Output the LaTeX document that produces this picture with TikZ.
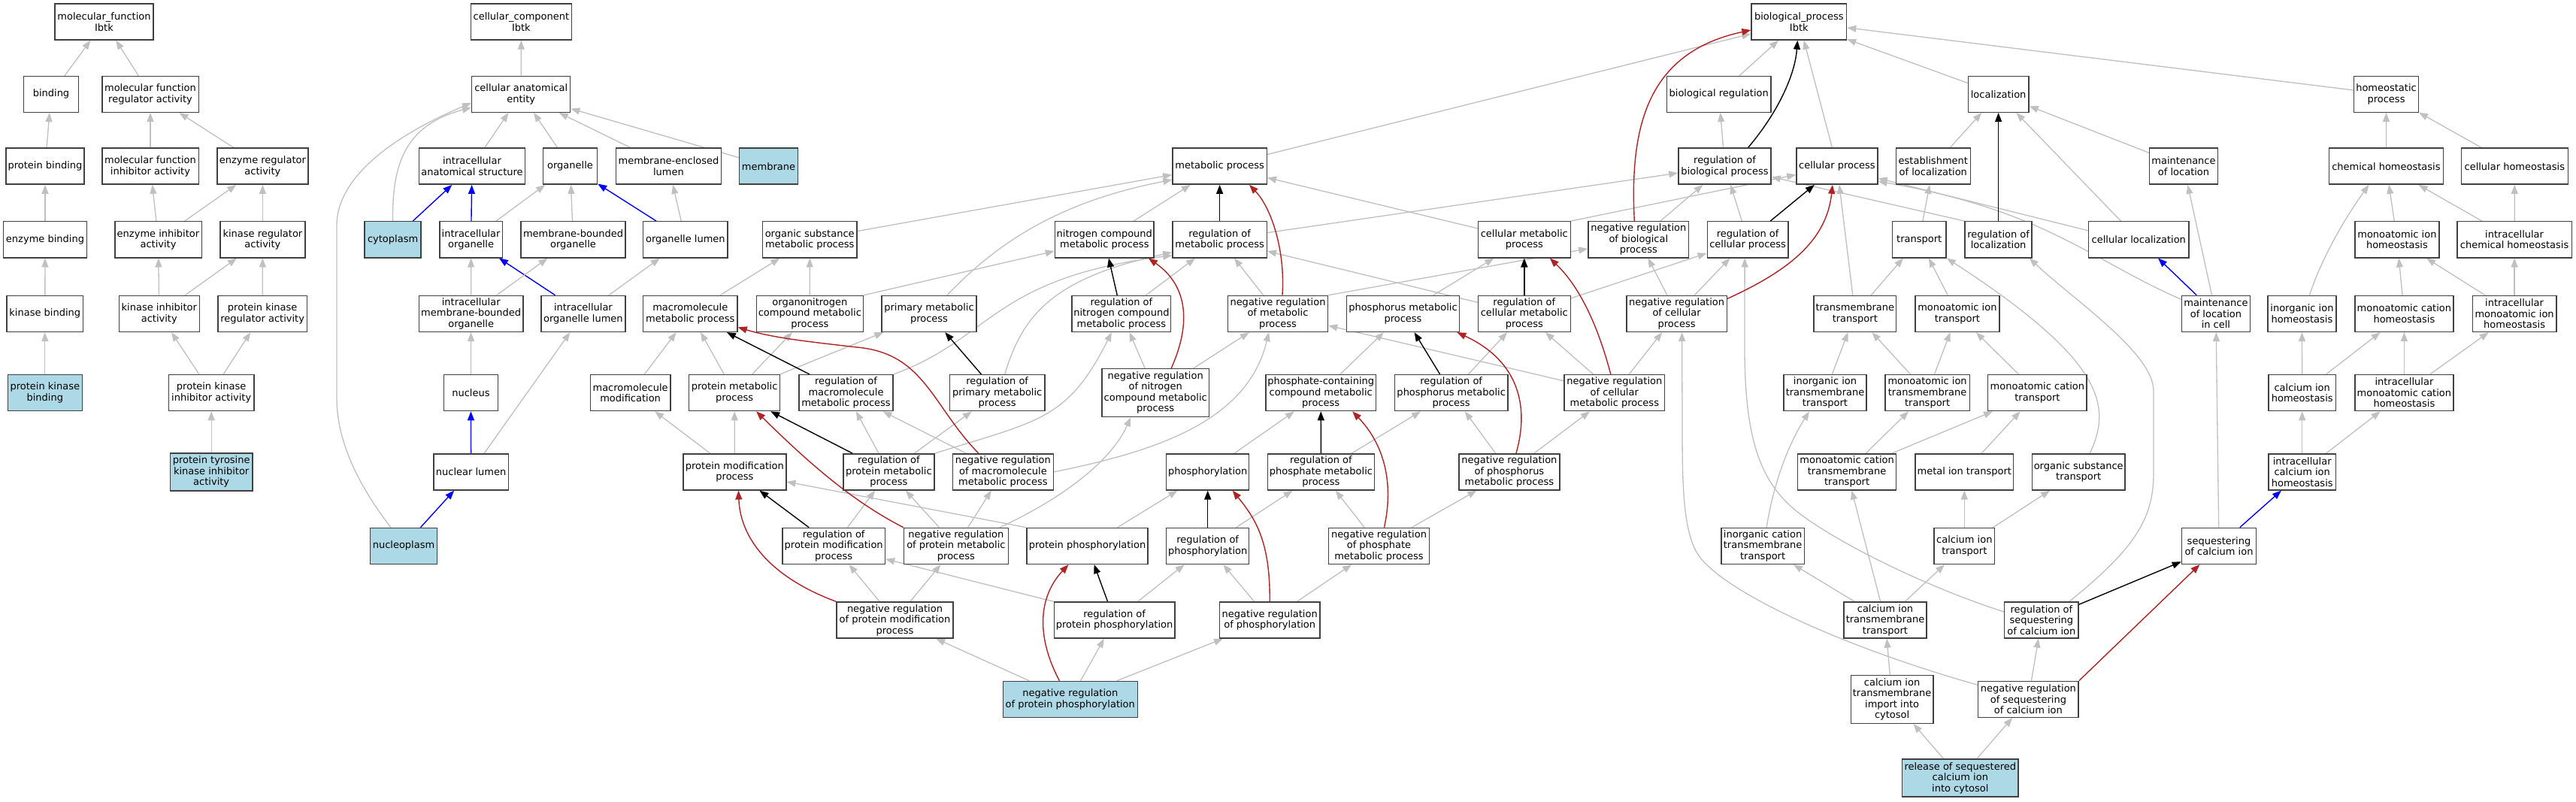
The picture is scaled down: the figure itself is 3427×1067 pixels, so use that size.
\documentclass[tikz,border=0pt]{standalone}
\usepackage{fontspec}
\newfontfamily\gofam{DejaVu Sans}
\usetikzlibrary{arrows.meta,calc,backgrounds}
\definecolor{edgegray}{RGB}{192,192,192}
\definecolor{negred}{RGB}{178,34,34}
\definecolor{hlblue}{RGB}{173,216,230}
\newcommand\gofont{\gofam\fontsize{13pt}{14.5pt}\selectfont}
\newcommand\gE[3]{\draw[#1] (#2) -- (#3);}
\tikzset{
 gonode/.style={rectangle, draw=black!75, line width=1.4pt, fill=white, inner sep=0pt, align=center, minimum height=48pt, font=\gofont, text=black},
 gohl/.style={fill=hlblue},
 eisa/.style={draw=edgegray, line width=1.3pt, -{Triangle[length=12pt,width=9pt]}},
 ereg/.style={draw=black, line width=1.4pt, -{Triangle[length=12pt,width=9pt]}},
 eneg/.style={draw=negred, line width=1.4pt, -{Triangle[length=12pt,width=9pt]}},
 epart/.style={draw=blue, line width=1.4pt, -{Triangle[length=12pt,width=9pt]}},
}
\begin{document}
\begin{tikzpicture}[x=1pt,y=-1pt]
\useasboundingbox (0,0) rectangle (3427,1067);
% ---------------- molecular function
\node[gonode,minimum width=131pt] (mf) at (138.5,29) {molecular\_function\\Ibtk};
\node[gonode,minimum width=72.5pt] (bind) at (68,125.3) {binding};
\node[gonode,minimum width=128.4pt] (mfra) at (200,125.3) {molecular function\\regulator activity};
\node[gonode,minimum width=104.3pt] (pbind) at (60,221.2) {protein binding};
\node[gonode,minimum width=128.4pt] (mfia) at (200,221.2) {molecular function\\inhibitor activity};
\node[gonode,minimum width=121pt] (enzra) at (349.4,221.2) {enzyme regulator\\activity};
\node[gonode,minimum width=111pt] (enzb) at (60,318.8) {enzyme binding};
\node[gonode,minimum width=115.4pt] (enzia) at (210.5,318.8) {enzyme inhibitor\\activity};
\node[gonode,minimum width=112.8pt] (kinra) at (349.4,318.8) {kinase regulator\\activity};
\node[gonode,minimum width=101.7pt] (kinb) at (59.8,417.4) {kinase binding};
\node[gonode,minimum width=107pt] (kinia) at (211.8,417.4) {kinase inhibitor\\activity};
\node[gonode,minimum width=118.4pt] (pkra) at (349.2,417.4) {protein kinase\\regulator activity};
\node[gonode,gohl,minimum width=98.8pt] (pkb) at (59.8,522.6) {protein kinase\\binding};
\node[gonode,minimum width=113.2pt] (pkia) at (281.2,522.6) {protein kinase\\inhibitor activity};
\node[gonode,gohl,minimum width=109.5pt,minimum height=50pt] (ptkia) at (281.2,627.9) {protein tyrosine\\kinase inhibitor\\activity};
% ---------------- cellular component
\node[gonode,minimum width=134.3pt] (cc) at (693.4,29) {cellular\_component\\Ibtk};
\node[gonode,minimum width=131pt] (cae) at (693.2,125.3) {cellular anatomical\\entity};
\node[gonode,minimum width=141pt] (ias) at (628,221.2) {intracellular\\anatomical structure};
\node[gonode,minimum width=72.2pt] (org) at (758.5,221.2) {organelle};
\node[gonode,minimum width=139.5pt] (mel) at (889.5,221.2) {membrane-enclosed\\lumen};
\node[gonode,gohl,minimum width=77.7pt] (memb) at (1022.5,221.2) {membrane};
\node[gonode,gohl,minimum width=75pt] (cyto) at (522.6,318.8) {cytoplasm};
\node[gonode,minimum width=83.6pt] (iorg) at (626.6,318.8) {intracellular\\organelle};
\node[gonode,minimum width=138.7pt] (mbo) at (762.5,318.8) {membrane-bounded\\organelle};
\node[gonode,minimum width=112.5pt] (orgl) at (911.9,318.8) {organelle lumen};
\node[gonode,minimum width=138.3pt] (imbo) at (626.7,417.4) {intracellular\\membrane-bounded\\organelle};
\node[gonode,minimum width=112.1pt] (iol) at (775.9,417.4) {intracellular\\organelle lumen};
\node[gonode,minimum width=72.2pt] (nucl) at (626.4,522.6) {nucleus};
\node[gonode,minimum width=99.2pt] (nlum) at (626.6,627.9) {nuclear lumen};
\node[gonode,gohl,minimum width=88.7pt] (nplasm) at (537,726.4) {nucleoplasm};
% ---------------- biological process
\node[gonode,minimum width=126.5pt] (bp) at (2393.3,29) {biological\_process\\Ibtk};
\node[gonode,minimum width=138.8pt] (breg) at (2286.7,125.3) {biological regulation};
\node[gonode,minimum width=80.8pt] (loc) at (2658.6,125.3) {localization};
\node[gonode,minimum width=85.8pt] (homeo) at (3174.5,125.3) {homeostatic\\process};
\node[gonode,minimum width=125.4pt] (met) at (1622.6,221.2) {metabolic process};
\node[gonode,minimum width=123.2pt] (rbp) at (2294.5,221.2) {regulation of\\biological process};
\node[gonode,minimum width=107.8pt] (cp) at (2443.9,221.2) {cellular process};
\node[gonode,minimum width=99.2pt] (estloc) at (2571.8,221.2) {establishment\\of localization};
\node[gonode,minimum width=90.8pt] (mloc) at (2905,221.2) {maintenance\\of location};
\node[gonode,minimum width=151.9pt] (chemh) at (3174.4,221.2) {chemical homeostasis};
\node[gonode,minimum width=142pt] (cellh) at (3345.3,221.2) {cellular homeostasis};
\node[gonode,minimum width=125.8pt] (osmp) at (1077.2,318.8) {organic substance\\metabolic process};
\node[gonode,minimum width=131.7pt] (ncmp) at (1469.3,318.8) {nitrogen compound\\metabolic process};
\node[gonode,minimum width=125.4pt] (rmp) at (1622.6,318.8) {regulation of\\metabolic process};
\node[gonode,minimum width=122.8pt] (cmp) at (2027.8,318.8) {cellular metabolic\\process};
\node[gonode,minimum width=133.9pt] (nrbp) at (2179.8,318.8) {negative regulation\\of biological\\process};
\node[gonode,minimum width=107.8pt] (rcp) at (2325.1,318.8) {regulation of\\cellular process};
\node[gonode,minimum width=71.8pt] (transp) at (2553.2,318.8) {transport};
\node[gonode,minimum width=89pt] (rloc) at (2658.6,318.8) {regulation of\\localization};
\node[gonode,minimum width=133.4pt] (cloc) at (2845.3,318.8) {cellular localization};
\node[gonode,minimum width=112.2pt] (mih) at (3188.9,318.8) {monoatomic ion\\homeostasis};
\node[gonode,minimum width=152.3pt] (ich) at (3345.1,318.8) {intracellular\\chemical homeostasis};
\node[gonode,minimum width=125.4pt] (mmp) at (918.3,417.4) {macromolecule\\metabolic process};
\node[gonode,minimum width=141.8pt] (oncmp) at (1077.4,417.4) {organonitrogen\\compound metabolic\\process};
\node[gonode,minimum width=126.2pt] (pmp) at (1236,417.4) {primary metabolic\\process};
\node[gonode,minimum width=131.7pt] (rncmp) at (1491.9,417.4) {regulation of\\nitrogen compound\\metabolic process};
\node[gonode,minimum width=133.1pt] (nrmp) at (1700,417.4) {negative regulation\\of metabolic\\process};
\node[gonode,minimum width=150.2pt] (phmp) at (1866.5,417.4) {phosphorus metabolic\\process};
\node[gonode,minimum width=122.8pt] (rcmp) at (2027.8,417.4) {regulation of\\cellular metabolic\\process};
\node[gonode,minimum width=133.4pt] (nrcp) at (2230.6,417.4) {negative regulation\\of cellular\\process};
\node[gonode,minimum width=109.8pt] (tmt) at (2467.8,417.4) {transmembrane\\transport};
\node[gonode,minimum width=111.8pt] (mit) at (2603.9,417.4) {monoatomic ion\\transport};
\node[gonode,minimum width=90.8pt] (mlocc) at (2947.9,417.4) {maintenance\\of location\\in cell};
\node[gonode,minimum width=91.2pt] (iih) at (3062.4,417.4) {inorganic ion\\homeostasis};
\node[gonode,minimum width=131.2pt] (mch) at (3198.4,417.4) {monoatomic cation\\homeostasis};
\node[gonode,minimum width=111.8pt] (imih) at (3345.1,417.4) {intracellular\\monoatomic ion\\homeostasis};
\node[gonode,minimum width=106.6pt] (mmod) at (838.6,522.6) {macromolecule\\modification};
\node[gonode,minimum width=121pt] (prmp) at (977.1,522.6) {protein metabolic\\process};
\node[gonode,minimum width=125.3pt] (rmmp) at (1125.5,522.6) {regulation of\\macromolecule\\metabolic process};
\node[gonode,minimum width=126.2pt] (rpmp) at (1326.7,522.6) {regulation of\\primary metabolic\\process};
\node[gonode,minimum width=142.5pt,minimum height=64pt] (nrncmp) at (1537.2,522.6) {negative regulation\\of nitrogen\\compound metabolic\\process};
\node[gonode,minimum width=146.8pt] (pccmp) at (1757.2,522.6) {phosphate-containing\\compound metabolic\\process};
\node[gonode,minimum width=150.6pt] (rphmp) at (1930.7,522.6) {regulation of\\phosphorus metabolic\\process};
\node[gonode,minimum width=133.6pt] (nrcmp) at (2147.8,522.6) {negative regulation\\of cellular\\metabolic process};
\node[gonode,minimum width=110.2pt] (iitt) at (2428,522.6) {inorganic ion\\transmembrane\\transport};
\node[gonode,minimum width=112.2pt] (mitt) at (2564.1,522.6) {monoatomic ion\\transmembrane\\transport};
\node[gonode,minimum width=131.4pt] (mct) at (2710.4,522.6) {monoatomic cation\\transport};
\node[gonode,minimum width=89.1pt] (cah) at (3062.7,522.6) {calcium ion\\homeostasis};
\node[gonode,minimum width=131.2pt] (imch) at (3198.4,522.6) {intracellular\\monoatomic cation\\homeostasis};
\node[gonode,minimum width=136.9pt] (pmod) at (977.4,627.9) {protein modification\\process};
\node[gonode,minimum width=120.8pt] (rprmp) at (1182.4,627.9) {regulation of\\protein metabolic\\process};
\node[gonode,minimum width=133.6pt] (nrmmp) at (1334.4,627.9) {negative regulation\\of macromolecule\\metabolic process};
\node[gonode,minimum width=109.9pt] (phos) at (1606.7,627.9) {phosphorylation};
\node[gonode,minimum width=142pt] (rphtmp) at (1757.4,627.9) {regulation of\\phosphate metabolic\\process};
\node[gonode,minimum width=133.9pt] (nrphmp) at (2007.9,627.9) {negative regulation\\of phosphorus\\metabolic process};
\node[gonode,minimum width=131pt] (mctt) at (2457.1,627.9) {monoatomic cation\\transmembrane\\transport};
\node[gonode,minimum width=130.6pt] (metit) at (2613.3,627.9) {metal ion transport};
\node[gonode,minimum width=123.5pt] (ost) at (2765.2,627.9) {organic substance\\transport};
\node[gonode,minimum width=89.1pt] (icah) at (3062.7,627.9) {intracellular\\calcium ion\\homeostasis};
\node[gonode,minimum width=136.4pt] (rpmod) at (1109.2,726.4) {regulation of\\protein modification\\process};
\node[gonode,minimum width=138.8pt] (nrprmp) at (1271.9,726.4) {negative regulation\\of protein metabolic\\process};
\node[gonode,minimum width=161pt] (pphos) at (1446.5,726.4) {protein phosphorylation};
\node[gonode,minimum width=109.9pt] (rphos) at (1606.7,726.4) {regulation of\\phosphorylation};
\node[gonode,minimum width=133.6pt] (nrphtmp) at (1834.5,726.4) {negative regulation\\of phosphate\\metabolic process};
\node[gonode,minimum width=110.2pt] (ictt) at (2345.1,726.4) {inorganic cation\\transmembrane\\transport};
\node[gonode,minimum width=80.8pt] (cait) at (2613.3,726.4) {calcium ion\\transport};
\node[gonode,minimum width=99.1pt] (seq) at (2952,726.4) {sequestering\\of calcium ion};
\node[gonode,minimum width=154.9pt] (nrpmod) at (1190.5,825) {negative regulation\\of protein modification\\process};
\node[gonode,minimum width=160.6pt] (rpphos) at (1482.6,825) {regulation of\\protein phosphorylation};
\node[gonode,minimum width=133.5pt] (nrphos) at (1689.2,825) {negative regulation\\of phosphorylation};
\node[gonode,minimum width=110.2pt] (catt) at (2508,825) {calcium ion\\transmembrane\\transport};
\node[gonode,minimum width=98.4pt] (rseq) at (2715.9,825) {regulation of\\sequestering\\of calcium ion};
\node[gonode,gohl,minimum width=179.1pt] (nrpphos) at (1423.8,930.3) {negative regulation\\of protein phosphorylation};
\node[gonode,minimum width=109.8pt,minimum height=64pt] (caimp) at (2517.1,930.3) {calcium ion\\transmembrane\\import into\\cytosol};
\node[gonode,minimum width=133.5pt] (nrseq) at (2698.4,930.3) {negative regulation\\of sequestering\\of calcium ion};
\node[gonode,gohl,minimum width=154.7pt,minimum height=50pt] (rel) at (2607.8,1035) {release of sequestered\\calcium ion\\into cytosol};
% ================= edges
\begin{pgfonlayer}{background}
\fill[white] (0,0) rectangle (3427,1067);
% MF
\gE{eisa}{bind}{mf} \gE{eisa}{mfra}{mf} \gE{eisa}{pbind}{bind} \gE{eisa}{mfia}{mfra}
\gE{eisa}{enzra}{mfra} \gE{eisa}{enzb}{pbind} \gE{eisa}{enzia}{mfia} \gE{eisa}{enzia}{enzra}
\gE{eisa}{kinra}{enzra} \gE{eisa}{kinb}{enzb} \gE{eisa}{kinia}{enzia} \gE{eisa}{kinia}{kinra}
\gE{eisa}{pkra}{kinra} \gE{eisa}{pkb}{kinb} \gE{eisa}{pkia}{kinia} \gE{eisa}{pkia}{pkra}
\gE{eisa}{ptkia}{pkia}
% CC
\gE{eisa}{cae}{cc} \gE{eisa}{ias}{cae} \gE{eisa}{org}{cae} \gE{eisa}{mel}{cae} \gE{eisa}{memb}{cae}
\draw[eisa] (cyto.north) .. controls (521,210) and (545,165) .. (cae.195);
\draw[eisa] ($(nplasm.north)+(-17,0)$) .. controls (480,650) and (448,590) .. (448,530) -- (448,300) .. controls (448,235) and (525,180) .. (cae.190);
\gE{epart}{cyto}{ias} \gE{epart}{iorg}{ias} \gE{epart}{orgl}{org} \gE{epart}{iol}{iorg}
\gE{epart}{nlum}{nucl} \gE{epart}{nplasm}{nlum}
\gE{eisa}{iorg}{org} \gE{eisa}{mbo}{org} \gE{eisa}{orgl}{mel} \gE{eisa}{imbo}{iorg}
\gE{eisa}{imbo}{mbo} \gE{eisa}{iol}{orgl} \gE{eisa}{nucl}{imbo} \gE{eisa}{nlum}{iol}
% BP is_a
\gE{eisa}{breg}{bp} \gE{eisa}{loc}{bp} \gE{eisa}{homeo}{bp} \gE{eisa}{met}{bp} \gE{eisa}{cp}{bp}
\gE{eisa}{rbp}{breg}
\gE{eisa}{estloc}{loc} \gE{eisa}{mloc}{loc} \gE{eisa}{cloc}{loc}
\gE{eisa}{chemh}{homeo} \gE{eisa}{cellh}{homeo}
\gE{eisa}{osmp}{met} \gE{eisa}{ncmp}{met} \gE{eisa}{cmp}{met}
\draw[eisa] ($(pmp.north)+(24,0)$) .. controls (1320,330) and (1400,270) .. ($(met.west)+(0,18)$);
\gE{eisa}{cmp.north east}{cp}
\gE{eisa}{rmp}{rbp} \gE{eisa}{nrbp}{rbp} \gE{eisa}{rcp}{rbp} \gE{eisa}{rloc.north west}{rbp}
\gE{eisa}{transp}{estloc}
\draw[eisa] ($(cloc.west)+(0,-12)$) -- ($(cp.east)+(0,16)$);
\gE{eisa}{mih}{chemh} \gE{eisa}{ich}{chemh} \gE{eisa}{ich}{cellh}
\gE{eisa}{mmp}{osmp} \gE{eisa}{oncmp}{osmp} \gE{eisa}{oncmp.north east}{ncmp}
\gE{eisa}{rncmp}{rmp} \gE{eisa}{nrmp}{rmp} \gE{eisa}{nrmp.north east}{nrbp}
\gE{eisa}{phmp}{cmp} \gE{eisa}{rcmp}{rmp} \gE{eisa}{rcmp}{rcp}
\gE{eisa}{nrcp}{rcp} \gE{eisa}{nrcp}{nrbp}
\gE{eisa}{tmt}{transp} \gE{eisa}{tmt}{cp} \gE{eisa}{mit}{transp}
\gE{eisa}{mlocc}{mloc}
\draw[eisa] ($(mlocc.west)+(0,-19)$) .. controls (2780,345) and (2720,280) .. ($(cp.east)+(0,20)$);
\draw[eisa] ($(iih.north)+(10,0)$) .. controls (3090,340) and (3120,290) .. ($(chemh.south)+(-23,0)$);
\gE{eisa}{mch}{mih} \gE{eisa}{imih}{mih} \gE{eisa}{imih}{ich}
\gE{eisa}{mmod}{mmp} \gE{eisa}{prmp}{mmp} \gE{eisa}{prmp}{oncmp} \gE{eisa}{prmp}{pmp}
\draw[eisa] (rmmp.north east) .. controls (1320,450) and (1320,370) .. ($(rmp.west)+(0,21)$);
\draw[eisa] ($(rpmp.north)+(10,0)$) .. controls (1360,420) and (1400,370) .. ($(rmp.west)+(0,17)$);
\gE{eisa}{nrncmp}{rncmp} \gE{eisa}{nrncmp}{nrmp}
\gE{eisa}{pccmp}{phmp} \gE{eisa}{rphmp}{rcmp}
\gE{eisa}{nrcmp}{rcmp} \gE{eisa}{nrcmp}{nrcp} \gE{eisa}{nrcmp}{nrmp}
\gE{eisa}{iitt}{tmt} \gE{eisa}{mitt}{tmt} \gE{eisa}{mitt}{mit} \gE{eisa}{mct}{mit}
\gE{eisa}{cah}{iih} \gE{eisa}{cah}{mch} \gE{eisa}{imch}{mch} \gE{eisa}{imch}{imih}
\gE{eisa}{pmod}{mmod} \gE{eisa}{pmod}{prmp}
\gE{eisa}{rprmp}{rmmp} \gE{eisa}{rprmp}{rpmp}
\draw[eisa] (rprmp.north east) .. controls (1380,560) and (1420,560) .. ($(rncmp.south)+(-13,0)$);
\gE{eisa}{nrmmp}{rmmp}
\draw[eisa] (nrmmp.east) .. controls (1540,600) and (1660,560) .. ($(nrmp.south)+(-12,0)$);
\gE{eisa}{phos}{pccmp} \gE{eisa}{rphtmp}{rphmp}
\gE{eisa}{nrphmp}{rphmp} \gE{eisa}{nrphmp}{nrcmp}
\gE{eisa}{mctt}{mitt} \gE{eisa}{mctt}{mct} \gE{eisa}{metit}{mct}
\draw[eisa] ($(ost.north)+(15,0)$) .. controls (2810,540) and (2800,480) .. (transp.south east);
\gE{eisa}{icah}{cah} \gE{eisa}{icah}{imch}
\gE{eisa}{rpmod}{rprmp}
\gE{eisa}{nrprmp}{rprmp} \gE{eisa}{nrprmp}{nrmmp}
\draw[eisa] ($(nrprmp.north east)+(-12,0)$) .. controls (1420,660) and (1480,610) .. ($(nrncmp.south)+(-33,0)$);
\gE{eisa}{pphos}{phos} \gE{eisa}{pphos.north west}{pmod}
\gE{eisa}{rphos}{rphtmp}
\gE{eisa}{nrphtmp}{rphtmp} \gE{eisa}{nrphtmp}{nrphmp}
\draw[eisa] ($(ictt.north)+(5,0)$) .. controls (2360,640) and (2380,590) .. ($(iitt.south)+(-21,0)$);
\gE{eisa}{cait}{metit} \gE{eisa}{cait}{ost}
\gE{eisa}{seq}{mlocc}
\gE{eisa}{nrpmod}{rpmod} \gE{eisa}{nrpmod}{nrprmp}
\gE{eisa}{rpphos}{rphos} \gE{eisa}{rpphos.north west}{rpmod}
\gE{eisa}{nrphos}{rphos} \gE{eisa}{nrphos}{nrphtmp}
\gE{eisa}{catt}{ictt} \gE{eisa}{catt}{mctt} \gE{eisa}{catt}{cait}
\draw[eisa] ($(rseq.north east)+(-13,0)$) .. controls (2840,730) and (2865,690) .. (2865,630) -- (2865,520) .. controls (2865,470) and (2760,400) .. ($(rloc.south east)+(-4,0)$);
\draw[eisa] ($(rseq.west)+(0,-11)$) .. controls (2560,780) and (2440,720) .. (2390,680) .. controls (2340,640) and (2322,580) .. (2321,470) -- ($(rcp.south)+(-4,0)$);
\gE{eisa}{nrpphos}{nrpmod} \gE{eisa}{nrpphos}{rpphos} \gE{eisa}{nrpphos}{nrphos}
\gE{eisa}{caimp}{catt}
\gE{eisa}{nrseq}{rseq}
\draw[eisa] ($(nrseq.west)+(0,-19)$) .. controls (2450,860) and (2300,790) .. (2262,742) .. controls (2238,712) and (2238,640) .. (2238,560) -- ($(nrcp.south)+(7,0)$);
\gE{eisa}{rel}{caimp} \gE{eisa}{rel}{nrseq}
% regulates
\draw[ereg] ($(rbp.north)+(31,0)$) .. controls (2365,150) and (2388,100) .. ($(bp.south)+(-2,0)$);
\gE{ereg}{rcp}{cp} \gE{ereg}{rmp}{met} \gE{ereg}{rloc}{loc} \gE{ereg}{rcmp}{cmp}
\gE{ereg}{rncmp}{ncmp} \gE{ereg}{rmmp}{mmp} \gE{ereg}{rpmp}{pmp} \gE{ereg}{rphmp}{phmp}
\gE{ereg}{rprmp}{prmp} \gE{ereg}{rphtmp}{pccmp} \gE{ereg}{rpmod}{pmod} \gE{ereg}{rphos}{phos}
\gE{ereg}{rpphos}{pphos} \gE{ereg}{rseq}{seq}
% negatively regulates
\draw[eneg] ($(nrbp.north)+(-5.5,0)$) .. controls (2168,170) and (2190,70) .. ($(bp.west)+(0,11)$);
\draw[eneg] ($(nrcp.east)+(0,-20)$) .. controls (2380,360) and (2430,320) .. ($(cp.south)+(-6,0)$);
\draw[eneg] ($(nrmp.north)+(6,0)$) .. controls (1710,330) and (1690,275) .. ($(met.south east)+(-24,0)$);
\draw[eneg] ($(nrcmp.north)+(-5,0)$) .. controls (2125,430) and (2100,380) .. ($(cmp.south)+(34,0)$);
\draw[eneg] ($(nrncmp.north)+(21,0)$) .. controls (1585,430) and (1580,380) .. ($(ncmp.south east)+(-8,0)$);
\draw[eneg] ($(nrmmp.north west)+(35,0)$) .. controls (1240,540) and (1230,470) .. (1140,462) .. controls (1080,455) and (1030,450) .. ($(mmp.east)+(0,18)$);
\draw[eneg] (nrprmp.north west) .. controls (1130,665) and (1070,610) .. ($(prmp.south)+(29,0)$);
\draw[eneg] ($(nrphmp.north)+(9,0)$) .. controls (2035,540) and (2020,480) .. ($(phmp.south east)+(-4,0)$);
\draw[eneg] ($(nrphtmp.north)+(7,0)$) .. controls (1855,640) and (1840,590) .. ($(pccmp.south)+(42,0)$);
\draw[eneg] (nrpmod.north west) .. controls (1030,770) and (985,720) .. ($(pmod.south)+(5,0)$);
\draw[eneg] (nrphos.north) .. controls (1690,720) and (1670,690) .. ($(phos.south)+(33,0)$);
\draw[eneg] ($(nrpphos.north)+(-14.5,0)$) .. controls (1375,840) and (1385,790) .. ($(pphos.south)+(-25,0)$);
\gE{eneg}{nrseq.north east}{seq}
% part of
\gE{epart}{mlocc}{cloc} \gE{epart}{seq}{icah}
\end{pgfonlayer}
\end{tikzpicture}
\end{document}
